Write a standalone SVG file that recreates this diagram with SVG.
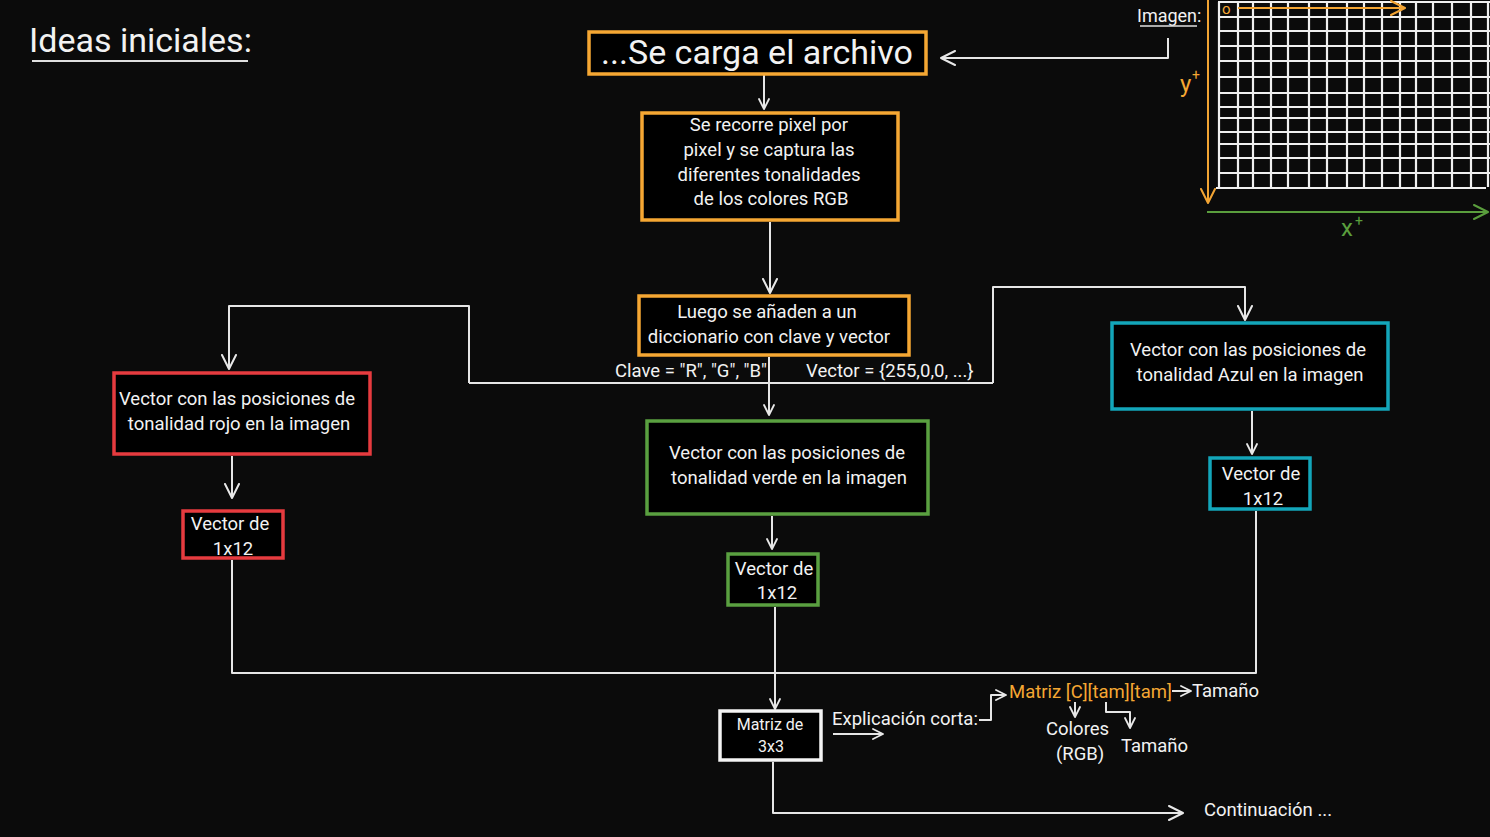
<svg xmlns="http://www.w3.org/2000/svg" width="1490" height="837" viewBox="0 0 1490 837">
<defs>
<marker id="ah" viewBox="0 0 12 12" refX="11" refY="6" markerWidth="12" markerHeight="12" markerUnits="userSpaceOnUse" orient="auto">
<path d="M1,1 L11,6 L1,11" fill="none" stroke="#e8e8e8" stroke-width="1.8" stroke-linecap="round" stroke-linejoin="round"/>
</marker>
<marker id="ahBig" viewBox="0 0 16 16" refX="15" refY="8" markerWidth="16" markerHeight="16" markerUnits="userSpaceOnUse" orient="auto">
<path d="M1,1 L15,8 L1,15" fill="none" stroke="#e8e8e8" stroke-width="2" stroke-linecap="round" stroke-linejoin="round"/>
</marker>
<marker id="ahO" viewBox="0 0 16 16" refX="15" refY="8" markerWidth="16" markerHeight="16" markerUnits="userSpaceOnUse" orient="auto">
<path d="M1,1 L15,8 L1,15" fill="none" stroke="#f2a433" stroke-width="2" stroke-linecap="round" stroke-linejoin="round"/>
</marker>
<marker id="ahG" viewBox="0 0 16 16" refX="15" refY="8" markerWidth="16" markerHeight="16" markerUnits="userSpaceOnUse" orient="auto">
<path d="M1,1 L15,8 L1,15" fill="none" stroke="#5a9e3d" stroke-width="2" stroke-linecap="round" stroke-linejoin="round"/>
</marker>
</defs>
<style>
text{font-family:Roboto,"Liberation Sans",sans-serif;fill:#f2f2f2}
.t{font-size:18.5px}
.c{text-anchor:middle}
.box{fill:#000;stroke-width:3.5}
.or{stroke:#f5a733}
.rd{stroke:#e63b3f}
.gr{stroke:#5aa040}
.bl{stroke:#13a6ba}
.wh{stroke:#f4f4f4}
.ln{fill:none;stroke:#e6e6e6;stroke-width:2;stroke-linejoin:round}
.grid{stroke:#f0f0f0;stroke-width:2.2;fill:none}
.ot{fill:#f5a733}
</style>
<rect width="1490" height="837" fill="#0b0b0b"/>

<g id="title">
<text x="29" y="52" style="font-size:34px">Ideas iniciales:</text>
<line x1="32" y1="61" x2="248" y2="61" stroke="#e0e0e0" stroke-width="2"/>
</g>

<g id="imagen">
<text x="1137" y="22" style="font-size:18px">Imagen:</text>
<line x1="1140" y1="26" x2="1197" y2="26" stroke="#e0e0e0" stroke-width="1.5"/>
<g class="grid">
<path d="M1219,2V187M1238,2V187M1253,2V187M1271,2V187M1288,2V187M1309,2V187M1327,2V187M1347,2V187M1364,2V187M1382,2V187M1400,2V187M1416,2V187M1433,2V187M1452,2V187M1471,2V187M1488,2V187"/>
<path d="M1218,2H1490M1218,17H1490M1218,31H1490M1218,46H1490M1218,61H1490M1218,77H1490M1218,93H1490M1218,107H1490M1218,118H1490M1218,132H1490M1218,144H1490M1218,158H1490M1218,173H1490M1216,188H1486"/>
</g>
<line x1="1208" y1="0" x2="1208" y2="203" stroke="#f2a433" stroke-width="2" marker-end="url(#ahO)"/>
<text x="1222" y="14" class="ot" style="font-size:15px">o</text>
<line x1="1238" y1="8" x2="1405" y2="8" stroke="#f2a433" stroke-width="2" marker-end="url(#ahO)"/>
<text x="1180" y="92" class="ot" style="font-size:24px">y</text>
<text x="1192" y="80" class="ot" style="font-size:14px">+</text>
<line x1="1207" y1="212" x2="1488" y2="212" stroke="#5a9e3d" stroke-width="2" marker-end="url(#ahG)"/>
<text x="1341" y="236" style="font-size:24px;fill:#5a9e3d">x</text>
<text x="1355" y="226" style="font-size:14px;fill:#5a9e3d">+</text>
</g>

<g id="connectors">
<path class="ln" d="M1168,38 V58 H941" marker-end="url(#ahBig)"/>
<path class="ln" d="M764,75 V109" marker-end="url(#ah)"/>
<path class="ln" d="M770,222 V293" marker-end="url(#ahBig)"/>
<path class="ln" d="M469,383 H993"/>
<path class="ln" d="M769,357 V415" marker-end="url(#ah)"/>
<path class="ln" d="M469,383 V306 H229 V369" marker-end="url(#ahBig)"/>
<path class="ln" d="M993,383 V287 H1245 V320" marker-end="url(#ahBig)"/>
<path class="ln" d="M232,456 V498" marker-end="url(#ahBig)"/>
<path class="ln" d="M1252,411 V454" marker-end="url(#ah)"/>
<path class="ln" d="M772,516 V549" marker-end="url(#ah)"/>
<path class="ln" d="M232,560 V673 H1256 V511"/>
<path class="ln" d="M775,607 V709" marker-end="url(#ah)"/>
<path class="ln" d="M773,762 V813 H1183" marker-end="url(#ahBig)"/>
<path class="ln" d="M833,734 H883" marker-end="url(#ah)"/>
<path class="ln" d="M979,720 H991 V695 H1006" marker-end="url(#ah)"/>
<path class="ln" d="M1172,691 H1191" marker-end="url(#ah)"/>
<path class="ln" d="M1075,702 V717" marker-end="url(#ah)"/>
<path class="ln" d="M1106,702 V712 H1130 V728" marker-end="url(#ah)"/>
</g>

<g id="n_carga">
<rect class="box or" x="589" y="32" width="337" height="42"/>
<text x="757" y="64" class="c" style="font-size:34px">...Se carga el archivo</text>
</g>

<g id="n_recorre">
<rect class="box or" x="642" y="113" width="256" height="107"/>
<text class="t c" x="769" y="131">Se recorre pixel por</text>
<text class="t c" x="769" y="156">pixel y se captura las</text>
<text class="t c" x="769" y="181">diferentes tonalidades</text>
<text class="t c" x="771" y="205">de los colores RGB</text>
</g>

<g id="n_diccionario">
<rect class="box or" x="639" y="296" width="270" height="59"/>
<text class="t c" x="767" y="318">Luego se añaden a un</text>
<text class="t c" x="769" y="343">diccionario con clave y vector</text>
<text class="t" x="615" y="377">Clave = "R", "G", "B"</text>
<text class="t" x="806" y="377">Vector = {255,0,0, ...}</text>
</g>

<g id="n_rojo">
<rect class="box rd" x="114" y="373" width="256" height="81"/>
<text class="t c" x="237" y="405">Vector con las posiciones de</text>
<text class="t c" x="239" y="430">tonalidad rojo en la imagen</text>
</g>

<g id="n_rojo12">
<rect class="box rd" x="183" y="511" width="100" height="47"/>
<text class="t c" x="230" y="530">Vector de</text>
<text class="t c" x="233" y="555">1x12</text>
</g>

<g id="n_verde">
<rect class="box gr" x="647" y="421" width="281" height="93"/>
<text class="t c" x="787" y="459">Vector con las posiciones de</text>
<text class="t c" x="789" y="484">tonalidad verde en la imagen</text>
</g>

<g id="n_verde12">
<rect class="box gr" x="728" y="554" width="90" height="51"/>
<text class="t c" x="774" y="575">Vector de</text>
<text class="t c" x="777" y="599">1x12</text>
</g>

<g id="n_azul">
<rect class="box bl" x="1112" y="323" width="276" height="86"/>
<text class="t c" x="1248" y="356">Vector con las posiciones de</text>
<text class="t c" x="1250" y="381">tonalidad Azul en la imagen</text>
</g>

<g id="n_azul12">
<rect class="box bl" x="1210" y="458" width="100" height="51"/>
<text class="t c" x="1261" y="480">Vector de</text>
<text class="t c" x="1263" y="505">1x12</text>
</g>

<g id="n_matriz">
<rect class="box wh" x="720" y="711" width="101" height="49"/>
<text class="c" x="770" y="730" style="font-size:16px">Matriz de</text>
<text class="c" x="771" y="752" style="font-size:16px">3x3</text>
</g>

<g id="explicacion">
<text class="t" x="832" y="725">Explicación corta:</text>
<text class="t ot" x="1009" y="698">Matriz [C][tam][tam]</text>
<text class="t" x="1192" y="697">Tamaño</text>
<text class="t" x="1046" y="735">Colores</text>
<text class="t" x="1056" y="760">(RGB)</text>
<text class="t" x="1121" y="752">Tamaño</text>
</g>

<g id="continuacion">
<text class="t" x="1204" y="816">Continuación ...</text>
</g>
</svg>
